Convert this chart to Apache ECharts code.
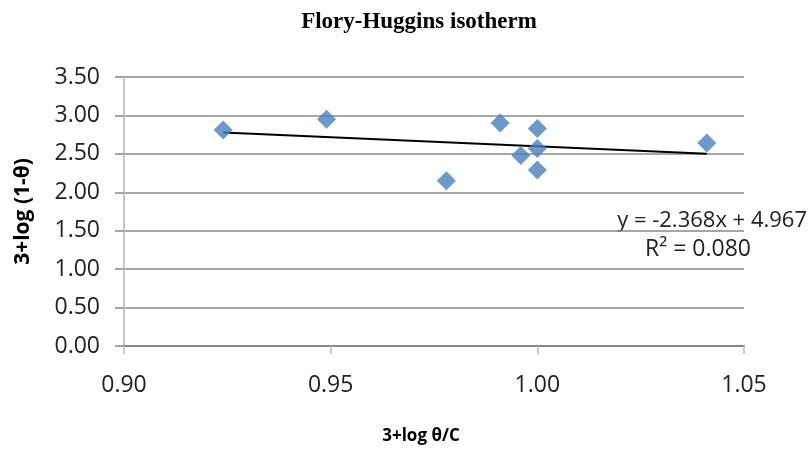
<!DOCTYPE html>
<html><head><meta charset="utf-8">
<script src="https://cdn.jsdelivr.net/npm/echarts@6/dist/echarts.min.js"></script>
<style>html,body{margin:0;padding:0;background:#fff}#c{width:811px;height:454px}</style>
</head><body><div id="c"></div>
<script>
var xValues = [0.924, 0.949, 0.978, 0.991, 0.996, 1.000, 1.000, 1.000, 1.041];
var yValues = [2.81, 2.95, 2.15, 2.90, 2.48, 2.83, 2.57, 2.29, 2.64];
var trendX = [0.924, 1.041];
var trendY = [2.778, 2.502];
var equationText = 'y = -2.368x + 4.967';
var r2Text = 'R² = 0.080';

var points = xValues.map(function(x, i){ return [x, yValues[i]]; });
var trend = trendX.map(function(x, i){ return [x, trendY[i]]; });

var chart = echarts.init(document.getElementById('c'));
chart.setOption({
  animation: false,
  backgroundColor: '#fff',
  title: {
    text: 'Flory-Huggins isotherm', left: 414, top: 6, textAlign: 'center',
    textStyle: {fontFamily: 'Liberation Serif', fontWeight: 'bold', fontSize: 23, color: '#000'}
  },
  grid: {left: 124, right: 67, top: 77, bottom: 108, containLabel: false, outerBoundsMode: 'none'},
  xAxis: {
    type: 'value', min: 0.90, max: 1.05, interval: 0.05,
    name: '3+log θ/C', nameLocation: 'middle', nameGap: 82,
    nameTextStyle: {fontFamily: 'Open Sans', fontWeight: 'bold', fontSize: 17, color: '#000', padding: [0, 26, 0, 0]},
    axisLine: {show: true, lineStyle: {color: '#888', width: 2}},
    axisTick: {show: true, length: 8, lineStyle: {color: '#bbb', width: 1.5}},
    axisLabel: {fontFamily: 'Open Sans', fontSize: 23, color: '#222', margin: 28,
      formatter: function(v){ return v.toFixed(2); }},
    splitLine: {show: false}
  },
  yAxis: {
    type: 'value', min: 0, max: 3.5, interval: 0.5,
    name: '3+log (1-θ)', nameLocation: 'middle', nameGap: 90,
    nameTextStyle: {fontFamily: 'Open Sans', fontWeight: 'bold', fontSize: 21, color: '#000'},
    axisLine: {show: true, onZero: false, lineStyle: {color: '#c8c8c8', width: 2}},
    axisTick: {show: true, length: 9, lineStyle: {color: '#888', width: 1.5}},
    axisLabel: {fontFamily: 'Open Sans', fontSize: 23, color: '#222', margin: 24,
      formatter: function(v){ return v.toFixed(2); }},
    splitLine: {show: true, lineStyle: {color: '#888', width: 1.5}}
  },
  series: [
    {type: 'line', data: trend, symbol: 'none', lineStyle: {color: '#000', width: 2}, z: 3},
    {type: 'scatter', data: points, symbol: 'diamond', symbolSize: 19,
     itemStyle: {color: '#4a7ebb'}, z: 4}
  ],
  graphic: [
    {type: 'text', right: 4, top: 210, style: {text: equationText, fontFamily: 'Open Sans', fontSize: 22, fill: '#222'}},
    {type: 'text', left: 645, top: 238, style: {text: r2Text, fontFamily: 'Open Sans', fontSize: 23, fill: '#222'}}
  ]
});
</script></body></html>
